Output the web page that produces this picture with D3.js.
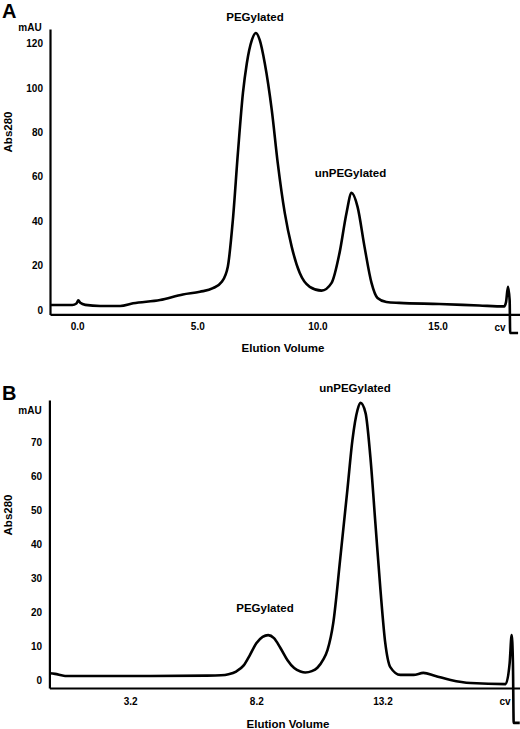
<!DOCTYPE html>
<html>
<head>
<meta charset="utf-8">
<script src="https://cdn.jsdelivr.net/npm/d3@7"></script>
<style>
  html, body { margin: 0; padding: 0; background: #fff; }
  svg { display: block; }
  text { font-family: "Liberation Sans", Arial, Helvetica, sans-serif; font-weight: bold; fill: #000; }
</style>
</head>
<body>
<svg id="chart" width="520" height="729"></svg>
<script>
// ---- Panel A data (elution volume, mAU) ----
const volumeA = [-1.11, -0.2, -0.03, 0.05, 0.13, 0.34, 0.96, 1.79, 2.33, 3.45, 4.4, 5.11, 5.65, 6.02, 6.27, 6.48, 6.69, 6.9, 7.06, 7.27, 7.44, 7.6, 7.81, 8.1, 8.35, 8.64, 8.93, 9.26, 9.68, 10.17, 10.59, 10.92, 11.21, 11.42, 11.67, 11.96, 12.25, 12.5, 12.87, 13.4, 15.07, 16.73, 17.77, 17.85, 17.93, 18.0, 18.02, 18.35];
const absA    = [2.25, 2.25, 2.9, 4.3, 3.2, 2.3, 1.8, 1.8, 3.0, 4.5, 7.0, 8.2, 9.8, 12.7, 19.5, 40.5, 70.7, 97.7, 111, 121.5, 124.7, 121.5, 111, 90, 66, 43.7, 28.4, 16.7, 10.4, 8.7, 12.2, 25.7, 43.7, 52.7, 46.4, 28.4, 12.2, 5.4, 3.6, 3.2, 2.7, 2.0, 1.6, 3.6, 10.4, 4.2, -10.4, -10.4];
const xTicksA = [0, 5, 10, 15];
const yTicksA = [0, 20, 40, 60, 80, 100, 120];

// ---- Panel B data ----
const volumeB = [0, 0.22, 0.62, 2.0, 4.0, 6.25, 6.8, 7.1, 7.4, 7.7, 7.95, 8.2, 8.45, 8.67, 8.9, 9.15, 9.43, 9.7, 9.95, 10.14, 10.4, 10.62, 10.85, 11.02, 11.25, 11.53, 11.81, 12.01, 12.21, 12.33, 12.53, 12.72, 12.92, 13.12, 13.31, 13.51, 13.91, 14.43, 14.82, 15.3, 15.9, 16.7, 18.08, 18.24, 18.32, 18.37, 18.40, 18.64];
const absB    = [2.0, 1.8, 1.2, 1.2, 1.2, 1.3, 1.4, 1.7, 2.5, 4.3, 7.4, 10.8, 12.7, 13.2, 12.3, 9.5, 5.9, 3.5, 2.5, 2.2, 2.6, 3.6, 6.0, 8.8, 16.8, 36, 56, 70.6, 79.4, 81.5, 78.5, 65.6, 46, 26.5, 10.9, 3.8, 1.5, 1.5, 2.1, 1.2, 0, -0.9, -1.2, 5, 13.2, 5, -12.6, -12.6];
const xTicksB = [3.2, 8.2, 13.2];
const yTicksB = [0, 10, 20, 30, 40, 50, 60, 70];

const svg = d3.select("#chart");

function panel(cfg) {
  const x = d3.scaleLinear().domain(cfg.xDomain).range(cfg.xRange);
  const y = d3.scaleLinear().domain(cfg.yDomain).range(cfg.yRange);
  const g = svg.append("g");

  // x axis
  const xa = g.append("g")
    .attr("transform", `translate(0,${cfg.yRange[0]})`)
    .call(d3.axisBottom(x).tickValues(cfg.xTicks).tickSize(0).tickSizeOuter(0)
      .tickPadding(cfg.xPad).tickFormat(d3.format(".1f")));
  xa.select(".domain").attr("stroke", "#000").attr("stroke-width", 2.2);
  xa.selectAll("text").style("font-size", "10px").style("font-family", '"Liberation Sans", Arial, sans-serif').style("font-weight", "bold");

  // y axis
  const ya = g.append("g")
    .attr("transform", `translate(${cfg.xRange[0]},0)`)
    .call(d3.axisLeft(y).tickValues(cfg.yTicks).tickSize(0).tickSizeOuter(0).tickPadding(cfg.yPad));
  ya.select(".domain").attr("stroke", "#000").attr("stroke-width", 2.2);
  ya.selectAll("text").style("font-size", "10px").style("font-family", '"Liberation Sans", Arial, sans-serif').style("font-weight", "bold");

  // trace
  const pts = cfg.vol.map((v, i) => [v, cfg.abs[i]]);
  const line = d3.line().x(d => x(d[0])).y(d => y(d[1])).curve(d3.curveMonotoneX);
  g.append("path").datum(pts)
    .attr("d", line)
    .attr("fill", "none")
    .attr("stroke", "#000")
    .attr("stroke-width", 2.6)
    .attr("stroke-linejoin", "round");

  // texts
  g.append("text").attr("x", 2).attr("y", cfg.letterY).style("font-size", "20px").text(cfg.letter);
  g.append("text").attr("x", 30).attr("y", cfg.mauY).attr("text-anchor", "middle").style("font-size", "10px").text("mAU");
  g.append("text").attr("transform", `translate(12,${cfg.absY}) rotate(-90)`).attr("text-anchor", "middle").style("font-size", "11.5px").text("Abs280");
  g.append("text").attr("x", cfg.cvX).attr("y", cfg.cvY).attr("text-anchor", "middle").style("font-size", "10px").text("cv");
  g.append("text").attr("x", cfg.titleX).attr("y", cfg.titleY).attr("text-anchor", "middle").style("font-size", "11.5px").text("Elution Volume");
  cfg.labels.forEach(l => {
    g.append("text").attr("x", l.x).attr("y", l.y).attr("text-anchor", "middle").style("font-size", "11.5px").text(l.t);
  });
}

panel({
  xDomain: [-1.13, 18.43], xRange: [50, 520],
  yDomain: [-2.0, 126.5], yRange: [314.4, 29],
  xTicks: xTicksA, yTicks: yTicksA, xPad: 9, yPad: 7,
  vol: volumeA, abs: absA,
  letter: "A", letterY: 18, mauY: 30.5, absY: 132,
  cvX: 500, cvY: 330.5, titleX: 283, titleY: 352,
  labels: [{t: "PEGylated", x: 255, y: 21}, {t: "unPEGylated", x: 350.5, y: 177}]
});

panel({
  xDomain: [0, 18.65], xRange: [49.4, 520],
  yDomain: [-2.35, 82.35], yRange: [688, 400],
  xTicks: xTicksB, yTicks: yTicksB, xPad: 10, yPad: 7.4,
  vol: volumeB, abs: absB,
  letter: "B", letterY: 400, mauY: 413.5, absY: 515,
  cvX: 505, cvY: 705, titleX: 288, titleY: 728,
  labels: [{t: "unPEGylated", x: 355, y: 392}, {t: "PEGylated", x: 265, y: 612}]
});
</script>
</body>
</html>
